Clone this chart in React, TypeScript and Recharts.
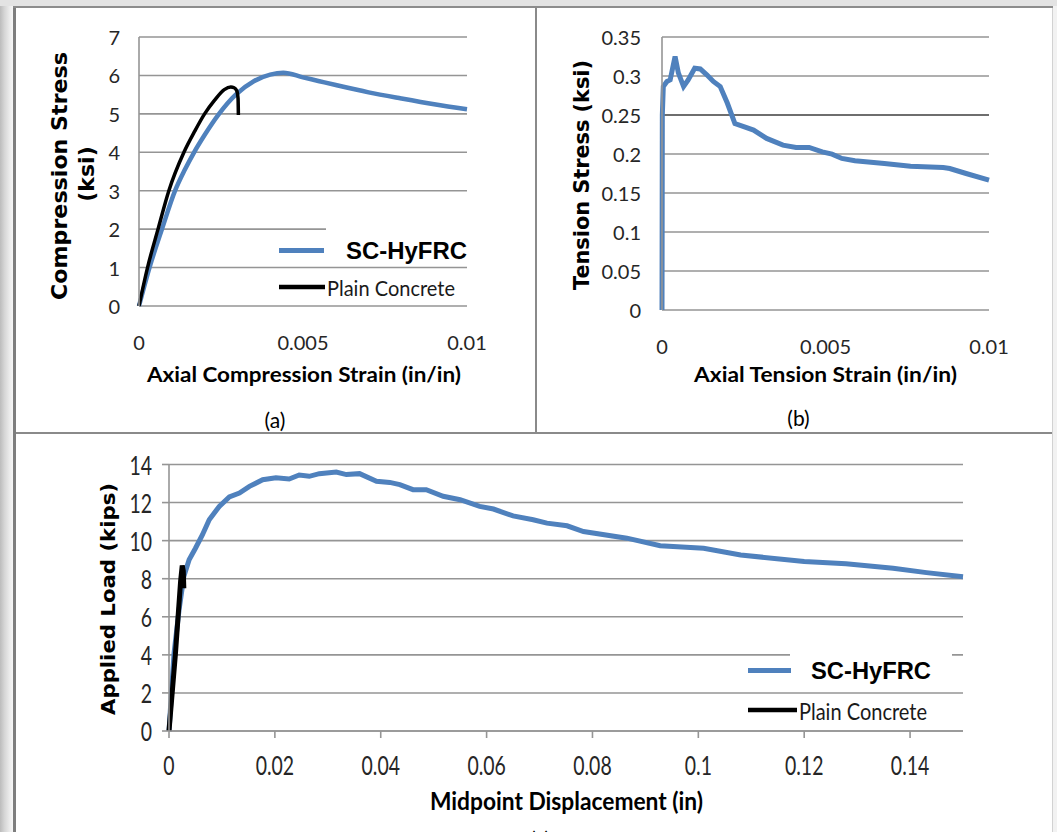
import React from "react";
import { LineChart, Line, XAxis, YAxis, CartesianGrid, Legend, Label, ReferenceLine } from "recharts";

const BLUE = "#4F81BD";
const GRID = "#959595";
const CAL = "Lato, 'Open Sans', sans-serif";
const WIDE = "'DejaVu Sans', Verdana, sans-serif";
const ARIAL = "'Liberation Sans', Arial, sans-serif";

// (a) compression test
const compStrainHyfrc = [0, 0.00032, 0.0007, 0.0011, 0.0014, 0.00168, 0.002, 0.00244, 0.00295, 0.0035, 0.004, 0.0044, 0.005, 0.0055, 0.006, 0.007, 0.008, 0.009, 0.01];
const compStressHyfrc = [0, 1, 2, 3, 3.55, 4, 4.45, 5, 5.5, 5.85, 6.02, 6.07, 5.95, 5.85, 5.75, 5.56, 5.4, 5.25, 5.12];
const compStrainPlain = [0, 0.00026, 0.00058, 0.00091, 0.00137, 0.0017, 0.002, 0.0023, 0.0026, 0.0028, 0.0029, 0.00298, 0.00302, 0.00303];
const compStressPlain = [0, 1, 2, 3, 4, 4.55, 5, 5.35, 5.63, 5.7, 5.68, 5.6, 5.4, 4.97];
const compXTicks = [0, 0.005, 0.01];
const compYTicks = [0, 1, 2, 3, 4, 5, 6, 7];

// (b) tension test
const tensStrain = [0, 0.00001, 0.00004, 0.00015, 0.00025, 0.0004, 0.0005, 0.00066, 0.0008, 0.001, 0.00117, 0.00137, 0.00157, 0.00178, 0.002, 0.00223, 0.0025, 0.0028, 0.0032, 0.0037, 0.0041, 0.0045, 0.0049, 0.0052, 0.0055, 0.0059, 0.0068, 0.0076, 0.0086, 0.0088, 0.0093, 0.01];
const tensStress = [0, 0.25, 0.2865, 0.293, 0.295, 0.325, 0.304, 0.2865, 0.295, 0.31, 0.309, 0.3015, 0.293, 0.2865, 0.265, 0.239, 0.235, 0.2307, 0.22, 0.2114, 0.2084, 0.2084, 0.2028, 0.1998, 0.1943, 0.1913, 0.1878, 0.1844, 0.1827, 0.1814, 0.175, 0.1664];
const tensXTicks = [0, 0.005, 0.01];
const tensYTicks = [0, 0.05, 0.1, 0.15, 0.2, 0.25, 0.3, 0.35];

// (c) flexure test
const dispHyfrc = [0, 0.00095, 0.0019, 0.0028, 0.0038, 0.005, 0.0063, 0.0076, 0.0095, 0.0114, 0.0133, 0.0152, 0.0177, 0.0202, 0.0227, 0.0246, 0.0265, 0.0284, 0.0316, 0.0335, 0.036, 0.0392, 0.0417, 0.0436, 0.0461, 0.0486, 0.0518, 0.055, 0.0587, 0.0613, 0.065, 0.0688, 0.0714, 0.0752, 0.0783, 0.0865, 0.0928, 0.101, 0.108, 0.12, 0.1279, 0.1368, 0.1431, 0.15];
const loadHyfrc = [0, 4.07, 6.36, 8.11, 9.0, 9.6, 10.3, 11.1, 11.8, 12.3, 12.5, 12.85, 13.2, 13.3, 13.24, 13.45, 13.38, 13.52, 13.6, 13.47, 13.52, 13.12, 13.06, 12.94, 12.68, 12.68, 12.33, 12.15, 11.8, 11.66, 11.3, 11.1, 10.92, 10.78, 10.48, 10.13, 9.73, 9.6, 9.25, 8.9, 8.78, 8.55, 8.32, 8.1];
const dispPlain = [0, 0.0012, 0.0022, 0.0025, 0.0027, 0.0028];
const loadPlain = [0, 4.0, 7.9, 8.7, 8.4, 7.5];
const flexXTicks = [0, 0.02, 0.04, 0.06, 0.08, 0.1, 0.12, 0.14];
const flexYTicks = [0, 2, 4, 6, 8, 10, 12, 14];

const zip = (xs: number[], ys: number[]) => xs.map((x, i) => ({ x, y: ys[i] }));

const makeTick = (size: number, anchor: "middle" | "end", sx = 1) => (props: any) => {
  const { x, y, payload } = props;
  return (
    <g transform={`translate(${x},${y})`}>
      <text transform={`scale(${sx},1)`} textAnchor={anchor} dominantBaseline="central" fontSize={size} fontFamily={CAL} fill="#262626">
        {String(payload.value)}
      </text>
    </g>
  );
};

const xTickAB = makeTick(20, "middle");
const yTickAB = makeTick(20, "end");
const xTickC = makeTick(27, "middle", 0.72);
const yTickC = makeTick(27, "end", 0.72);

function Title(p: { x: number; y: number; text: string; size: number; len?: number; bold?: boolean; font?: string; rotate?: boolean }) {
  return (
    <text
      transform={`translate(${p.x},${p.y})${p.rotate ? " rotate(-90)" : ""}`}
      textAnchor="middle"
      dominantBaseline="central"
      fontSize={p.size}
      fontFamily={p.font ?? CAL}
      fontWeight={p.bold ? 700 : 400}
      fill="#000"
      textLength={p.len}
      lengthAdjust={p.len ? "spacingAndGlyphs" : undefined}
    >
      {p.text}
    </text>
  );
}

function LegendBox(p: { boxX: number; boxW: number; boxH: number; blueY: number; blackY: number; blueEnd: number; blackEnd: number; hyX: number; hyLen: number; hySize: number; plX: number; plLen: number; plSize: number }) {
  return (
    <svg width={230} height={90} style={{ display: "block", overflow: "visible" }}>
      <rect x={p.boxX} y={2} width={p.boxW} height={p.boxH} fill="#fff" />
      <line x1={3} x2={p.blueEnd} y1={p.blueY} y2={p.blueY} stroke={BLUE} strokeWidth={5} />
      <text x={p.hyX} y={p.blueY} dominantBaseline="central" fontFamily={ARIAL} fontWeight={700} fontSize={p.hySize} textLength={p.hyLen} lengthAdjust="spacingAndGlyphs" fill="#000">
        SC-HyFRC
      </text>
      <line x1={3} x2={p.blackEnd} y1={p.blackY} y2={p.blackY} stroke="#000" strokeWidth={4.5} />
      <text x={p.plX} y={p.blackY} dominantBaseline="central" fontFamily={CAL} fontSize={p.plSize} textLength={p.plLen} lengthAdjust="spacingAndGlyphs" fill="#1a1a1a">
        Plain Concrete
      </text>
    </svg>
  );
}

function ChartA() {
  return (
    <LineChart width={522} height={425} margin={{ top: 29, right: 69, bottom: 87, left: 0 }}>
      <CartesianGrid vertical={false} stroke={GRID} strokeWidth={1.6} />
      <XAxis type="number" dataKey="x" domain={[0, 0.01]} ticks={compXTicks} tick={xTickAB} tickLine={false} tickSize={0} tickMargin={36} axisLine={false} height={40}>
        <Label content={() => <Title x={290} y={365} text="Axial Compression Strain (in/in)" size={21} len={314} bold />} />
        <Label content={() => <Title x={261} y={411} text="(a)" size={21} />} />
      </XAxis>
      <YAxis type="number" domain={[0, 7]} ticks={compYTicks} tick={yTickAB} tickLine={false} tickSize={0} tickMargin={19} axisLine={{ stroke: GRID, strokeWidth: 1.6 }} width={125}>
        <Label content={() => <Title x={45} y={168} text="Compression Stress" size={22} len={248} bold font={WIDE} rotate />} />
        <Label content={() => <Title x={72} y={166} text="(ksi)" size={22} bold font={WIDE} rotate />} />
      </YAxis>
      <Line data={zip(compStrainHyfrc, compStressHyfrc)} dataKey="y" type="monotone" stroke={BLUE} strokeWidth={4.5} dot={false} activeDot={false} isAnimationActive={false} />
      <Line data={zip(compStrainPlain, compStressPlain)} dataKey="y" type="monotone" stroke="#000" strokeWidth={3.5} dot={false} activeDot={false} isAnimationActive={false} />
      <Legend
        layout="vertical"
        align="center"
        verticalAlign="middle"
        wrapperStyle={{ left: 262, top: 215, width: 230, height: 90 }}
        content={() => (
          <LegendBox boxX={50} boxW={148} boxH={38} blueY={27.5} blackY={64} blueEnd={48} blackEnd={49} hyX={70} hyLen={121} hySize={24} plX={51} plLen={128} plSize={22} />
        )}
      />
    </LineChart>
  );
}

function ChartB() {
  return (
    <LineChart width={516} height={425} margin={{ top: 29, right: 64, bottom: 83, left: 0 }}>
      <CartesianGrid vertical={false} stroke={GRID} strokeWidth={1.6} />
      <ReferenceLine y={0.25} stroke="#6e6e6e" strokeWidth={2} />
      <XAxis type="number" dataKey="x" domain={[0, 0.01]} ticks={tensXTicks} tick={xTickAB} tickLine={false} tickSize={0} tickMargin={36} axisLine={false} height={40}>
        <Label content={() => <Title x={288.5} y={365} text="Axial Tension Strain (in/in)" size={21} len={263} bold />} />
        <Label content={() => <Title x={261.5} y={409} text="(b)" size={21} />} />
      </XAxis>
      <YAxis type="number" domain={[0, 0.35]} ticks={tensYTicks} tick={yTickAB} tickLine={false} tickSize={0} tickMargin={21} axisLine={{ stroke: GRID, strokeWidth: 1.6 }} width={125}>
        <Label content={() => <Title x={45} y={167} text="Tension Stress (ksi)" size={20.5} len={230} bold font={WIDE} rotate />} />
      </YAxis>
      <Line data={zip(tensStrain, tensStress)} dataKey="y" type="linear" stroke={BLUE} strokeWidth={5} dot={false} activeDot={false} isAnimationActive={false} />
    </LineChart>
  );
}

function ChartC() {
  return (
    <LineChart width={1039} height={410} margin={{ top: 31.5, right: 90, bottom: 72, left: 0 }}>
      <CartesianGrid vertical={false} stroke={GRID} strokeWidth={1.6} />
      <XAxis type="number" dataKey="x" domain={[0, 0.15]} ticks={flexXTicks} tick={xTickC} tickLine={{ stroke: GRID, strokeWidth: 1.6 }} tickSize={7} tickMargin={27} axisLine={{ stroke: GRID, strokeWidth: 1.6 }} height={40}>
        <Label content={() => <Title x={552.5} y={367} text="Midpoint Displacement (in)" size={25} len={273} bold />} />
        <Label content={() => <Title x={526} y={405} text="(c)" size={21} />} />
      </XAxis>
      <YAxis type="number" domain={[0, 14]} ticks={flexYTicks} tick={yTickC} tickLine={{ stroke: GRID, strokeWidth: 1.6 }} tickSize={7} tickMargin={10} axisLine={{ stroke: GRID, strokeWidth: 1.6 }} width={155}>
        <Label content={() => <Title x={94} y={166} text="Applied Load (kips)" size={20} len={232} bold font={WIDE} rotate />} />
      </YAxis>
      <Line data={zip(dispHyfrc, loadHyfrc)} dataKey="y" type="linear" stroke={BLUE} strokeWidth={5} dot={false} activeDot={false} isAnimationActive={false} />
      <Line data={zip(dispPlain, loadPlain)} dataKey="y" type="linear" stroke="#000" strokeWidth={5} dot={false} activeDot={false} isAnimationActive={false} />
      <Legend
        layout="vertical"
        align="center"
        verticalAlign="middle"
        wrapperStyle={{ left: 731, top: 207, width: 230, height: 90 }}
        content={() => (
          <LegendBox boxX={45} boxW={162} boxH={41} blueY={30.5} blackY={70} blueEnd={46} blackEnd={52} hyX={66} hyLen={120} hySize={23} plX={54} plLen={128} plSize={24} />
        )}
      />
    </LineChart>
  );
}

export default function App() {
  const abs = (l: number, t: number, w: number, h: number, bg: string): React.CSSProperties => ({ position: "absolute", left: l, top: t, width: w, height: h, background: bg });
  return (
    <div style={{ position: "absolute", left: 0, top: 0, width: 1057, height: 832, overflow: "hidden", background: "#fff" }}>
      <div style={abs(0, 0, 13, 832, "linear-gradient(to right,#bcbcbc,#d6d6d6 35%,#ececec 75%,#f6f6f6)")} />
      <div style={abs(0, 0, 1057, 6, "#e3e3e3")} />
      <div style={abs(13, 6, 3, 826, "#7e7e7e")} />
      <div style={abs(13, 6, 1040, 2, "#8c8c8c")} />
      <div style={abs(535, 8, 2, 425, "#8a8a8a")} />
      <div style={abs(16, 432, 1037, 2, "#8a8a8a")} />
      <div style={abs(1053, 6, 4, 826, "#f2f2f2")} />
      <div style={abs(1052, 8, 1, 824, "#d2d2d2")} />
      <div style={{ position: "absolute", left: 14, top: 8 }}>
        <ChartA />
      </div>
      <div style={{ position: "absolute", left: 537, top: 8 }}>
        <ChartB />
      </div>
      <div style={{ position: "absolute", left: 14, top: 433 }}>
        <ChartC />
      </div>
    </div>
  );
}
